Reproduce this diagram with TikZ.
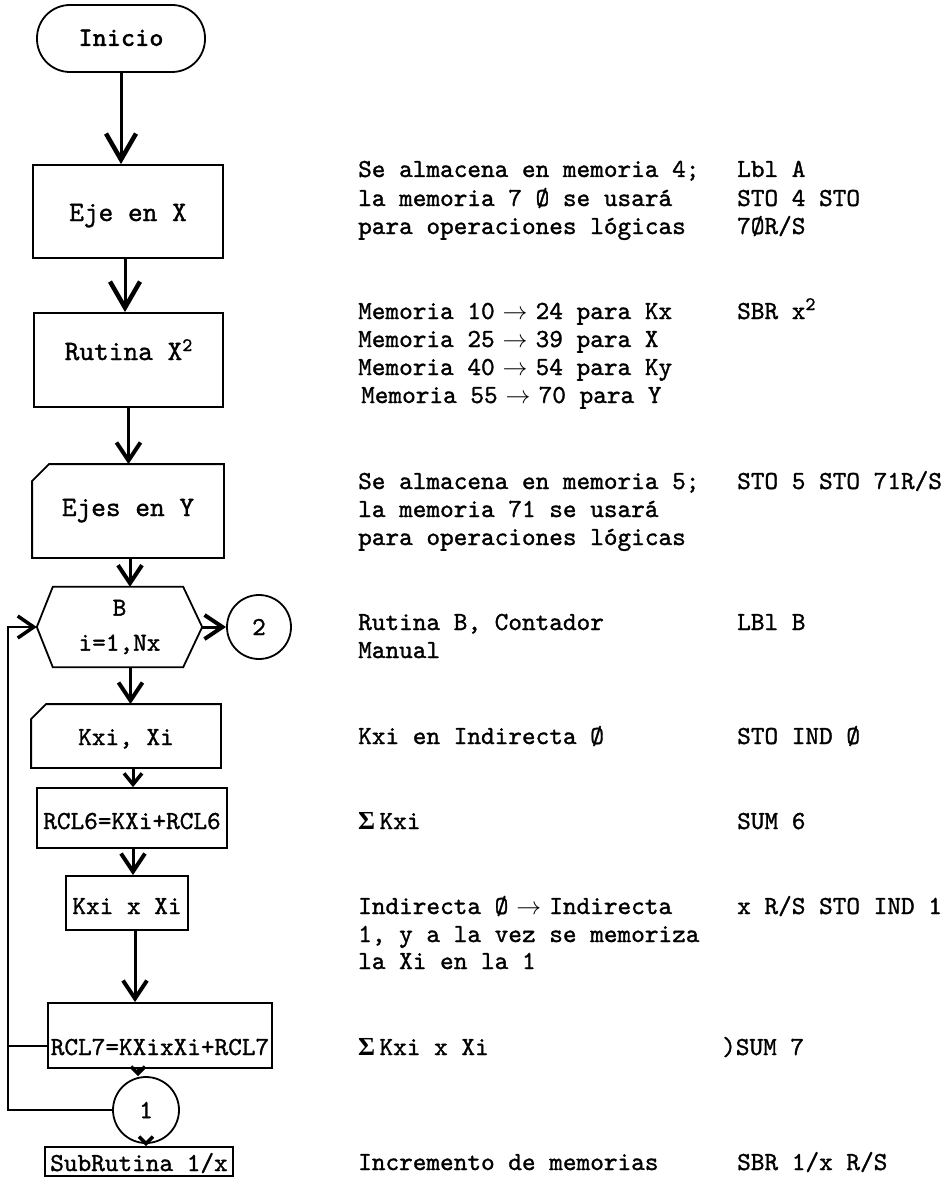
\documentclass[tikz,border=0pt]{standalone}
\usepackage{fontspec}
\setmonofont{lmmono10-regular.otf}[FakeBold=1.2, BoldFont=lmmonolt10-bold.otf, BoldFeatures={FakeBold=0.6}]
\newfontfamily\gfont{Liberation Serif}
\usetikzlibrary{arrows.meta}
\newcommand{\sq}{\raisebox{9pt}{\fontsize{19}{19}\selectfont 2}}
\newcommand{\tarrow}{\makebox[13.65pt]{$\rightarrow$}}
\newcommand{\sumsym}{{\gfont\bfseries Σ}}
\begin{document}
\begin{tikzpicture}[x=1pt,y=-1pt,
  every node/.style={font=\ttfamily\fontsize{26}{28}\selectfont},
  bigtext/.style={font=\ttfamily\fontsize{28}{30}\selectfont},
  fbox/.style={draw, line width=1.8pt, inner xsep=0pt, inner ysep=0pt, anchor=base},
  boxline/.style={line width=1.8pt, line join=miter},
  circ/.style={draw, circle, line width=1.8pt, minimum size=64pt, inner sep=0pt},
  conn/.style={line width=3pt, -{Straight Barb[length=18pt,width=24pt,line width=4pt]}},
  bigtip/.style={-{Straight Barb[length=26pt,width=30pt,line width=4.5pt]}},
  smalltip/.style={-{Straight Barb[length=11pt,width=18pt,line width=3.5pt]}},
  tinytip/.style={-{Straight Barb[length=7pt,width=14pt,line width=3.5pt]}},
  loopline/.style={line width=2pt},
  anno/.style={anchor=base west, inner sep=0pt}]
\useasboundingbox (0,0) rectangle (949,1185);

% ---------- flowchart ----------
\node[fbox, rounded corners=33pt, minimum width=168pt, text height=41pt, text depth=26pt,
      font=\ttfamily\bfseries\fontsize{27}{29}\selectfont] (ini) at (121,46) {Inicio};
\node[fbox, bigtext, minimum width=190pt, text height=56pt, text depth=37pt] (eje) at (128,221) {Eje en X};
\node[fbox, bigtext, minimum width=189pt, text height=47pt, text depth=47pt] (rut) at (128.5,360) {Rutina X\sq};
\node[fbox, bigtext, draw=none, minimum width=190pt, text height=51pt, text depth=41pt] (ejy) at (128,516) {Ejes en Y};
\draw[boxline] ([yshift=-17pt]ejy.north west) -- ([xshift=17pt]ejy.north west) -- (ejy.north east)
  -- (ejy.south east) -- (ejy.south west) -- cycle;
\node[inner sep=0pt, minimum width=165pt, minimum height=80pt, align=center] (hex) at (119.5,627) {B\\[7pt]i=1,Nx};
\draw[boxline] (hex.west) -- ([xshift=16pt]hex.north west) -- ([xshift=-19pt]hex.north east) -- (hex.east)
  -- ([xshift=-19pt]hex.south east) -- ([xshift=16pt]hex.south west) -- cycle;
\node[circ] (c2) at (259,627) {2};
\node[fbox, draw=none, minimum width=188pt, text height=40pt, text depth=22pt] (kxi) at (126,745) {Kxi, Xi};
\draw[boxline] ([yshift=-15pt]kxi.north west) -- ([xshift=15pt]kxi.north west) -- (kxi.north east)
  -- (kxi.south east) -- (kxi.south west) -- cycle;
\node[fbox, minimum width=190pt, text height=41pt, text depth=19pt] (rcl6) at (132,829) {RCL6=KXi+RCL6};
\node[fbox, minimum width=122pt, text height=38pt, text depth=16pt] (kxx) at (127,914) {Kxi x Xi};
\node[fbox, minimum width=224pt, text height=52pt, text depth=13pt] (rcl7) at (160,1055) {RCL7=KXixXi+RCL7};
\node[circ, minimum size=66pt] (c1) at (146,1110) {1};
\node[fbox, minimum width=188pt, text height=24pt, text depth=5pt] (sub) at (139,1171) {SubRutina 1/x};

% ---------- connectors ----------
\draw[conn, bigtip] (ini.south) -- (ini.south |- eje.north);
\draw[conn, bigtip] ([xshift=-3pt]eje.south) -- ([xshift=-3pt]eje.south |- rut.north);
\draw[conn] (rut.south) -- (rut.south |- ejy.north);
\draw[conn] ([xshift=2pt]ejy.south) -- ([xshift=2pt]ejy.south |- hex.north);
\draw[conn] ([xshift=11pt]hex.south) -- ([xshift=11pt]hex.south |- kxi.north);
\draw[conn, smalltip] ([xshift=7pt]kxi.south) -- ([xshift=7pt]kxi.south |- rcl6.north);
\draw[conn] ([xshift=1pt]rcl6.south) -- ([xshift=1pt]rcl6.south |- kxx.north);
\draw[conn] ([xshift=8pt]kxx.south) -- ([xshift=8pt]kxx.south |- rcl7.north);
\draw[conn, tinytip] ([xshift=-8pt]c1.north |- rcl7.south) -- ([xshift=-8pt]c1.north);
\draw[conn, tinytip] (c1.south) -- (c1.south |- sub.north);
\draw[conn] (hex.east) -- (c2.west);
\coordinate (lp) at (8,1110);
\draw[loopline, -{Straight Barb[length=16pt,width=22pt,line width=3.5pt]}] (c1.west) -- (lp) |- (hex.west);
\draw[loopline] ([yshift=-10pt]rcl7.west) -- ([yshift=-10pt]rcl7.west -| lp);

% ---------- annotations ----------
\node[anno] (a1) at (358,177) {Se almacena en memoria 4;};
\node[anno] (a2) at (358,206) {la memoria 7 Ø se usará};
\node[anno] (a3) at (358,234) {para operaciones lógicas};
\node[anno] (r1) at (737,177) {Lbl A};
\node[anno] (r2) at (737,206) {STO 4 STO};
\node[anno] (r3) at (737,234) {7ØR/S};

\node[anno] (b1) at (358,319) {Memoria 10 \tarrow{} 24 para Kx};
\node[anno] (b2) at (358,347) {Memoria 25 \tarrow{} 39 para X};
\node[anno] (b3) at (358,375) {Memoria 40 \tarrow{} 54 para Ky};
\node[anno] (b4) at (361,403) {Memoria 55 \tarrow{} 70 para Y};
\node[anno] (rb) at (737,319) {SBR x\sq};

\node[anno] (c1t) at (358,489) {Se almacena en memoria 5;};
\node[anno] (c2t) at (358,517) {la memoria 71 se usará};
\node[anno] (c3t) at (358,545) {para operaciones lógicas};
\node[anno] (rc) at (737,489) {STO 5 STO 71R/S};

\node[anno] (d1) at (358,630) {Rutina B, Contador};
\node[anno] (d2) at (358,658) {Manual};
\node[anno] (rd) at (737,630) {LBl B};

\node[anno] (e1) at (358,744) {Kxi en Indirecta Ø};
\node[anno] (re) at (737,744) {STO IND Ø};

\node[anno] (f1) at (358,829) {\sumsym\,Kxi};
\node[anno] (rf) at (737,829) {SUM 6};

\node[anno] (g1) at (358,914) {Indirecta Ø \tarrow{} Indirecta};
\node[anno] (g2) at (358,942) {1, y a la vez se memoriza};
\node[anno] (g3) at (358,969) {la Xi en la 1};
\node[anno] (rg) at (737,914) {x R/S STO IND 1};

\node[anno] (h1) at (358,1055) {\sumsym\,Kxi x Xi};
\node[anno] (rh) at (722,1055) {)SUM 7};

\node[anno] (i1) at (358,1170) {Incremento de memorias};
\node[anno] (ri) at (737,1170) {SBR 1/x R/S};
\end{tikzpicture}
\end{document}
